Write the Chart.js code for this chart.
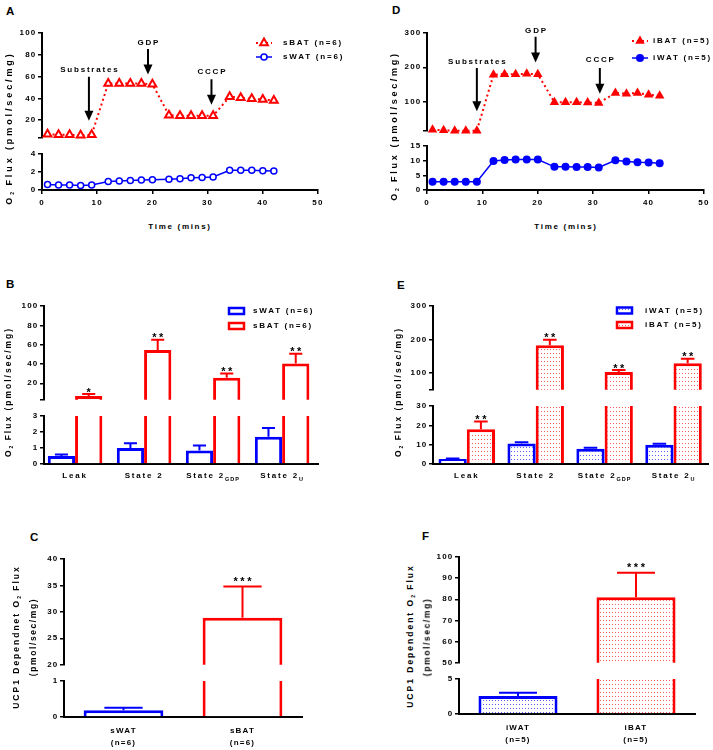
<!DOCTYPE html>
<html lang="en">
<head>
<meta charset="UTF-8">
<title>O2 flux: BAT vs WAT</title>
<script src="https://cdn.jsdelivr.net/npm/chart.js"></script>
<style>
  html, body { margin: 0; padding: 0; background: #fff; }
  #page { position: relative; width: 713px; height: 750px; overflow: hidden;
          font-family: 'Liberation Sans', Arial, sans-serif; font-weight: bold; color: #000; }
  .box { position: absolute; }
  .letter { position: absolute; font-size: 11.5px; line-height: 1; }
  .t { position: absolute; font-size: 8px; line-height: 1; white-space: nowrap;
       letter-spacing: 1.7px; transform: translate(-50%, -50%); }
  .yt { font-size: 8.5px; transform: translate(-50%, -50%) rotate(-90deg); }
  .t sub { font-size: 5px; vertical-align: -1.5px; letter-spacing: 1px; }
</style>
</head>
<body>
<div id="page">
  <div class="letter" style="left:6px;top:6px">A</div>
  <div class="letter" style="left:392px;top:5px">D</div>
  <div class="letter" style="left:6px;top:279px">B</div>
  <div class="letter" style="left:397px;top:280px">E</div>
  <div class="letter" style="left:30px;top:532px">C</div>
  <div class="letter" style="left:422px;top:531px">F</div>

  <div class="t yt" style="left:9.5px;top:128px;font-size:9px;letter-spacing:2.9px">O<sub>2</sub> Flux (pmol/sec/mg)</div>
  <div class="t yt" style="left:395px;top:126px;font-size:9px;letter-spacing:2.7px">O<sub>2</sub> Flux (pmol/sec/mg)</div>
  <div class="t yt" style="left:9px;top:392px;letter-spacing:2px">O<sub>2</sub> Flux (pmol/sec/mg)</div>
  <div class="t yt" style="left:399px;top:392px;letter-spacing:2px">O<sub>2</sub> Flux (pmol/sec/mg)</div>
  <div class="t yt" style="left:16.5px;top:637px;letter-spacing:2px">UCP1 Dependnet O<sub>2</sub> Flux</div>
  <div class="t yt" style="left:33px;top:637px;letter-spacing:1.6px">(pmol/sec/mg)</div>
  <div class="t yt" style="left:410.5px;top:636px;letter-spacing:2px">UCP1 Dependent O<sub>2</sub> Flux</div>
  <div class="t yt" style="left:427px;top:637px;letter-spacing:1.6px">(pmol/sec/mg)</div>

  <div class="t" style="left:180px;top:227px">Time (mins)</div>
  <div class="t" style="left:566px;top:227px">Time (mins)</div>
</div>

<script>
// ---------- data ----------
// A / D: oxygen flux time course
const timeMins = [1, 3, 5, 7, 9, 12, 14, 16, 18, 20, 23, 25, 27, 29, 31, 34, 36, 38, 40, 42];
const sBATflux = [7, 6.5, 6.5, 6, 6.5, 53.5, 53.5, 53.5, 53.5, 53, 24.5, 24, 24, 24, 24, 41.5, 40.5, 39.5, 39, 38];
const sWATflux = [0.6, 0.55, 0.55, 0.5, 0.55, 0.95, 1.0, 1.05, 1.1, 1.15, 1.2, 1.25, 1.35, 1.4, 1.45, 2.2, 2.2, 2.2, 2.15, 2.1];
const iBATflux = [18, 16, 15, 15, 15, 178, 180, 180, 181, 180, 98, 98, 98, 97, 96, 125, 123, 125, 120, 117];
const iWATflux = [2.8, 2.8, 2.8, 2.8, 2.8, 9.9, 10.2, 10.4, 10.4, 10.4, 7.9, 7.9, 7.8, 7.8, 7.7, 10.1, 9.7, 9.5, 9.4, 9.1];
const timeTicks = [0, 10, 20, 30, 40, 50];
const additions = ['Substrates', 'GDP', 'CCCP'];
const additionTimeA = [8.5, 19.2, 30.7];
const additionTimeD = [9.0, 19.6, 31.2];

// B / E: respiratory states
const states = ['Leak', 'State 2', 'State 2', 'State 2'];
const stateSubs = ['', '', 'GDP', 'U'];
const sWATstate = [0.5, 1.0, 0.85, 1.7];
const sWATsem = [0.1, 0.3, 0.3, 0.55];
const sBATstate = [6.8, 54.5, 25.6, 40.5];
const sBATsem = [2, 10.5, 4.6, 10];
const sBATstars = ['*', '**', '**', '**'];
const iWATstate = [2.6, 10.6, 7.9, 9.9];
const iWATsem = [0.3, 0.7, 0.5, 0.6];
const iBATstate = [18, 183, 103, 129];
const iBATsem = [4, 16, 5.5, 13.5];
const iBATstars = ['**', '**', '**', '**'];

// C / F: UCP1 dependent flux
const groupsC = [['sWAT', '(n=6)'], ['sBAT', '(n=6)']];
const ucp1C = [0.185, 28.9];
const ucp1Csem = [0.07, 5.9];
const groupsF = [['iWAT', '(n=5)'], ['iBAT', '(n=5)']];
const ucp1F = [2.57, 81];
const ucp1Fsem = [0.45, 11.5];
const ucp1Stars = ['', '***'];

// broken y axes: upper / lower segment ticks
const ticksA = [[4, 20, 40, 60, 80, 100], [0, 2, 4]];
const ticksD = [[15, 100, 200, 300], [0, 5, 10, 15]];
const ticksB = [[3, 20, 40, 60, 80, 100], [0, 1, 2, 3]];
const ticksE = [[50, 100, 200, 300], [0, 10, 20, 30]];
const ticksC = [[20, 25, 30, 35, 40], [0, 1]];
const ticksF = [[50, 60, 70, 80, 90, 100], [0, 5]];

// ---------- setup ----------
const RED = '#ff0000', BLUE = '#0000ff';
const FONT = "'Liberation Sans', Arial, sans-serif";
const page = document.getElementById('page');

Chart.defaults.font.family = FONT;
Chart.defaults.font.size = 8;
Chart.defaults.font.weight = 'bold';
Chart.defaults.color = '#000';
Chart.defaults.animation = false;
Chart.defaults.events = [];
Chart.defaults.plugins.legend.display = false;
Chart.defaults.plugins.tooltip.enabled = false;

function dots(color) {
  const c = document.createElement('canvas');
  c.width = 3; c.height = 4;
  const g = c.getContext('2d');
  g.fillStyle = '#fff'; g.fillRect(0, 0, 3, 4);
  g.fillStyle = color; g.fillRect(1, 1, 1, 1);
  return g.createPattern(c, 'repeat');
}
const redDots = dots('#ff5a5a');
const blueDots = dots('#5a5aff');

const sBATstyle = { color: RED, marker: 'triangle', radius: 4.5, fill: '#fff', mb: 2, line: 2, dash: [2, 3] };
const sWATstyle = { color: BLUE, marker: 'circle', radius: 3, fill: '#fff', mb: 1.5, line: 1.5 };
const iBATstyle = { color: RED, marker: 'triangle', radius: 5.5, fill: RED, mb: 0, line: 2, dash: [2, 3] };
const iWATstyle = { color: BLUE, marker: 'circle', radius: 4, fill: BLUE, mb: 0, line: 1.5 };

function marker(ctx, st, x, y) {
  const r = st.radius, a = 2 * Math.PI / 3;
  ctx.beginPath();
  if (st.marker === 'triangle') {
    ctx.moveTo(x, y - r);
    ctx.lineTo(x + r * Math.sin(a), y - r * Math.cos(a));
    ctx.lineTo(x - r * Math.sin(a), y - r * Math.cos(a));
    ctx.closePath();
  } else {
    ctx.arc(x, y, r, 0, 2 * Math.PI);
  }
  ctx.fillStyle = st.fill;
  ctx.fill();
  if (st.mb) { ctx.lineWidth = st.mb; ctx.strokeStyle = st.color; ctx.stroke(); }
}

// ---------- plugins ----------
Chart.register({
  id: 'spacing',
  beforeDraw(chart) { chart.ctx.letterSpacing = '1.2px'; }
});

// upward SEM bars and significance stars
Chart.register({
  id: 'errorBars',
  afterDatasetsDraw(chart, args, opts) {
    const ctx = chart.ctx, ys = chart.scales.y;
    chart.data.datasets.forEach((ds, di) => {
      if (!ds.sem) return;
      chart.getDatasetMeta(di).data.forEach((bar, i) => {
        const d = ds.data[i];
        const v = typeof d === 'object' ? d.y : d;
        if (v < ys.min || v > ys.max) return;
        const top = ys.getPixelForValue(v + ds.sem[i]);
        const half = bar.width * 0.24;
        ctx.save();
        ctx.strokeStyle = Array.isArray(ds.borderColor) ? ds.borderColor[i] : ds.borderColor;
        ctx.lineWidth = 2;
        ctx.beginPath();
        ctx.moveTo(bar.x, bar.y); ctx.lineTo(bar.x, top);
        ctx.moveTo(bar.x - half, top); ctx.lineTo(bar.x + half, top);
        ctx.stroke();
        if (ds.stars && ds.stars[i]) {
          ctx.fillStyle = '#000';
          ctx.font = 'bold 11px ' + FONT;
          ctx.letterSpacing = '2.5px';
          ctx.textAlign = 'center';
          ctx.textBaseline = 'alphabetic';
          ctx.fillText(ds.stars[i], bar.x + 1.25, top + (opts.starDrop || 0));
        }
        ctx.restore();
      });
    });
  }
});

// addition arrows (Substrates / GDP / CCCP)
Chart.register({
  id: 'arrows',
  afterDatasetsDraw(chart, args, opts) {
    if (!opts.items) return;
    const ctx = chart.ctx, xs = chart.scales.x, ys = chart.scales.y;
    opts.items.forEach(a => {
      const x = xs.getPixelForValue(a.t);
      const y0 = ys.getPixelForValue(a.from), y1 = ys.getPixelForValue(a.to);
      ctx.save();
      ctx.strokeStyle = '#000'; ctx.fillStyle = '#000'; ctx.lineWidth = 2;
      ctx.beginPath(); ctx.moveTo(x, y0); ctx.lineTo(x, y1 - 8); ctx.stroke();
      ctx.beginPath();
      ctx.moveTo(x - 4.5, y1 - 10); ctx.lineTo(x + 4.5, y1 - 10); ctx.lineTo(x, y1);
      ctx.closePath(); ctx.fill();
      ctx.font = 'bold 8px ' + FONT;
      ctx.letterSpacing = '1.8px';
      ctx.textAlign = 'center'; ctx.textBaseline = 'middle';
      ctx.fillText(a.label, x + 0.9, ys.getPixelForValue(a.labelAt));
      ctx.restore();
    });
  }
});

// legend drawn at page coordinates
Chart.register({
  id: 'key',
  afterDraw(chart, args, opts) {
    if (!opts.items) return;
    const ctx = chart.ctx;
    opts.items.forEach(it => {
      const x = it.x - opts.ox, y = it.y - opts.oy;
      const st = it.style;
      ctx.save();
      if (it.kind === 'box') {
        ctx.fillStyle = st.fill; ctx.fillRect(x - 8, y - 3.5, 16, 7);
        ctx.strokeStyle = st.color; ctx.lineWidth = 2.5;
        ctx.strokeRect(x - 7.5, y - 3, 15, 6);
      } else {
        ctx.strokeStyle = st.color; ctx.lineWidth = st.line;
        ctx.setLineDash(st.dash || []);
        ctx.beginPath(); ctx.moveTo(x - 8, y); ctx.lineTo(x + 8, y); ctx.stroke();
        ctx.setLineDash([]);
        marker(ctx, st, x, y);
      }
      ctx.fillStyle = '#000';
      ctx.font = 'bold 8px ' + FONT;
      ctx.letterSpacing = '1.8px';
      ctx.textAlign = 'left'; ctx.textBaseline = 'middle';
      ctx.fillText(it.text, it.tx - opts.ox, y);
      ctx.restore();
    });
  }
});

// category labels with subscripts under grouped bars
Chart.register({
  id: 'groupLabels',
  afterDraw(chart, args, opts) {
    if (!opts.main) return;
    const ctx = chart.ctx, xs = chart.scales.x;
    const y = chart.chartArea.bottom + opts.offset;
    opts.main.forEach((txt, i) => {
      const sub = opts.sub[i];
      ctx.save();
      ctx.fillStyle = '#000'; ctx.textAlign = 'left'; ctx.textBaseline = 'middle';
      ctx.font = 'bold 8px ' + FONT; ctx.letterSpacing = '1.8px';
      const w1 = ctx.measureText(txt).width;
      ctx.font = 'bold 5.5px ' + FONT; ctx.letterSpacing = '1px';
      const w2 = sub ? ctx.measureText(sub).width : 0;
      const x0 = xs.getPixelForValue(i) - (w1 + w2) / 2;
      ctx.font = 'bold 8px ' + FONT; ctx.letterSpacing = '1.8px';
      ctx.fillText(txt, x0, y);
      if (sub) {
        ctx.font = 'bold 5.5px ' + FONT; ctx.letterSpacing = '1px';
        ctx.fillText(sub, x0 + w1, y + 3);
      }
      ctx.restore();
    });
  }
});

// ---------- helpers ----------
function makeChart(area, cfg, o) {
  o = o || {};
  const yw = 40, pt = o.pt || 10, pr = o.pr || 12, pb = 2, xh = o.xh || 0;
  const left = area[0] - yw, top = area[1] - pt;
  const w = area[2] - area[0] + yw + pr;
  const h = area[3] - area[1] + pt + xh + pb;
  const box = document.createElement('div');
  box.className = 'box';
  box.style.left = left + 'px'; box.style.top = top + 'px';
  box.style.width = w + 'px'; box.style.height = h + 'px';
  const cv = document.createElement('canvas');
  cv.width = w; cv.height = h;
  cv.style.width = w + 'px'; cv.style.height = h + 'px';
  box.appendChild(cv);
  page.insertBefore(box, page.firstChild);
  const opt = cfg.options;
  opt.responsive = false;
  opt.layout = { padding: { left: 0, top: pt, right: pr, bottom: pb } };
  opt.scales.y.afterFit = s => { s.width = yw; };
  opt.scales.x.afterFit = s => { s.height = xh; };
  opt.plugins = opt.plugins || {};
  if (opt.plugins.key) { opt.plugins.key.ox = left; opt.plugins.key.oy = top; }
  return new Chart(cv, cfg);
}

function yAxis(min, max, ticks, blankMin) {
  return {
    min, max,
    afterBuildTicks: s => { s.ticks = ticks.map(v => ({ value: v })); },
    ticks: { padding: 1.5, autoSkip: false, callback: v => (blankMin && v === min ? '' : v) },
    grid: { drawOnChartArea: false, drawTicks: true, tickLength: 4, color: '#000', lineWidth: 1.5 },
    border: { color: '#000', width: 2 }
  };
}

function xTime(show) {
  if (!show) return { type: 'linear', min: 0, max: 50, display: false };
  return {
    type: 'linear', min: 0, max: 50,
    afterBuildTicks: s => { s.ticks = timeTicks.map(v => ({ value: v })); },
    ticks: { padding: 4, autoSkip: false, maxRotation: 0 },
    grid: { drawOnChartArea: false, drawTicks: true, tickLength: 4, color: '#000', lineWidth: 1.5 },
    border: { color: '#000', width: 2 }
  };
}

function xStates(min, max, show) {
  return {
    type: 'linear', min, max, display: show, offset: false,
    afterBuildTicks: s => { s.ticks = states.map((_, i) => ({ value: i })); },
    ticks: { display: false },
    grid: { display: false, drawTicks: false, offset: false },
    border: { color: '#000', width: 2 }
  };
}

function xGroups(show) {
  return {
    type: 'category', display: show, offset: true,
    ticks: { padding: 8, font: { lineHeight: 1.5 } },
    grid: { display: false, drawTicks: false },
    border: { color: '#000', width: 2 }
  };
}

function lineSet(ys, st) {
  return {
    data: timeMins.map((x, i) => ({ x, y: ys[i] })),
    borderColor: st.color, borderWidth: st.line, borderDash: st.dash || [],
    pointStyle: st.marker, pointRadius: st.radius, pointBorderWidth: st.mb,
    pointBackgroundColor: st.fill, pointBorderColor: st.color,
    clip: false, tension: 0
  };
}

function barSet(vals, sem, stars, color, fill, pct) {
  return {
    data: vals.map((v, i) => ({ x: i, y: v })), sem, stars,
    borderColor: color, backgroundColor: fill, borderWidth: 3, borderSkipped: 'start',
    clip: 0, categoryPercentage: pct, barPercentage: 1
  };
}

// ---------- A ----------
const arrowsA = [
  { label: additions[0], t: additionTimeA[0], from: 59.8, to: 19.4, labelAt: 66.2 },
  { label: additions[1], t: additionTimeA[1], from: 85.3, to: 61.8, labelAt: 91.2 },
  { label: additions[2], t: additionTimeA[2], from: 57.5, to: 34, labelAt: 64.8 }
];
makeChart([42, 33, 318, 142], {
  type: 'line',
  data: { datasets: [lineSet(sBATflux, sBATstyle)] },
  options: {
    scales: { x: xTime(false), y: yAxis(4, 100, ticksA[0], true) },
    plugins: {
      arrows: { items: arrowsA },
      key: { items: [
        { style: sBATstyle, x: 264, y: 43, text: 'sBAT (n=6)', tx: 283 },
        { style: sWATstyle, x: 264, y: 57, text: 'sWAT (n=6)', tx: 283 }
      ] }
    }
  }
}, { pr: 37 });
makeChart([42, 154, 318, 190], {
  type: 'line',
  data: { datasets: [lineSet(sWATflux, sWATstyle)] },
  options: { scales: { x: xTime(true), y: yAxis(0, 4, ticksA[1], false) } }
}, { xh: 30, pt: 8 });

// ---------- D ----------
const arrowsD = [
  { label: additions[0], t: additionTimeD[0], from: 198, to: 72, labelAt: 217 },
  { label: additions[1], t: additionTimeD[1], from: 289, to: 214, labelAt: 305 },
  { label: additions[2], t: additionTimeD[2], from: 198, to: 123, labelAt: 221 }
];
makeChart([427, 33, 704, 135], {
  type: 'line',
  data: { datasets: [lineSet(iBATflux, iBATstyle)] },
  options: {
    scales: { x: xTime(false), y: yAxis(15, 300, ticksD[0], true) },
    plugins: {
      arrows: { items: arrowsD },
      key: { items: [
        { style: iBATstyle, x: 640, y: 41, text: 'iBAT (n=5)', tx: 653 },
        { style: iWATstyle, x: 640, y: 58, text: 'iWAT (n=5)', tx: 653 }
      ] }
    }
  }
}, { pr: 9 });
makeChart([427, 146, 704, 190], {
  type: 'line',
  data: { datasets: [lineSet(iWATflux, iWATstyle)] },
  options: { scales: { x: xTime(true), y: yAxis(0, 15, ticksD[1], false) } }
}, { xh: 30, pt: 8, pr: 9 });

// ---------- B ----------
const bSets = () => [
  barSet(sWATstate, sWATsem, null, BLUE, '#fff', 0.79),
  barSet(sBATstate, sBATsem, sBATstars, RED, '#fff', 0.79)
];
makeChart([44, 306, 318, 404], {
  type: 'bar',
  data: { datasets: bSets() },
  options: {
    scales: { x: xStates(-0.45, 3.52, false), y: yAxis(3, 100, ticksB[0], true) },
    plugins: {
      errorBars: { starDrop: 1.5 },
      key: { items: [
        { kind: 'box', style: { color: BLUE, fill: '#fff' }, x: 236.5, y: 311, text: 'sWAT (n=6)', tx: 253 },
        { kind: 'box', style: { color: RED, fill: '#fff' }, x: 236.5, y: 326, text: 'sBAT (n=6)', tx: 253 }
      ] }
    }
  }
}, { pr: 30 });
makeChart([44, 416, 318, 464], {
  type: 'bar',
  data: { datasets: bSets() },
  options: {
    scales: { x: xStates(-0.45, 3.52, true), y: yAxis(0, 3, ticksB[1], false) },
    plugins: { errorBars: { starDrop: 1.5 }, groupLabels: { main: states, sub: stateSubs, offset: 12 } }
  }
}, { xh: 25, pt: 8, pr: 30 });

// ---------- E ----------
const eSets = () => [
  barSet(iWATstate, iWATsem, null, BLUE, blueDots, 0.82),
  barSet(iBATstate, iBATsem, iBATstars, RED, redDots, 0.82)
];
makeChart([433, 306, 708, 394], {
  type: 'bar',
  data: { datasets: eSets() },
  options: {
    scales: { x: xStates(-0.49, 3.5, false), y: yAxis(50, 300, ticksE[0], true) },
    plugins: {
      errorBars: { starDrop: 1.5 },
      key: { items: [
        { kind: 'box', style: { color: BLUE, fill: blueDots }, x: 624.5, y: 310.5, text: 'iWAT (n=5)', tx: 645 },
        { kind: 'box', style: { color: RED, fill: redDots }, x: 624.5, y: 325, text: 'iBAT (n=5)', tx: 645 }
      ] }
    }
  }
}, { pr: 5 });
makeChart([433, 406, 708, 464], {
  type: 'bar',
  data: { datasets: eSets() },
  options: {
    scales: { x: xStates(-0.49, 3.5, true), y: yAxis(0, 30, ticksE[1], false) },
    plugins: { errorBars: { starDrop: 1.5 }, groupLabels: { main: states, sub: stateSubs, offset: 12 } }
  }
}, { xh: 25, pt: 8, pr: 5 });

// ---------- C ----------
const cSet = () => ({
  data: ucp1C, sem: ucp1Csem, stars: ucp1Stars,
  borderColor: [BLUE, RED], backgroundColor: ['#fff', '#fff'], borderWidth: 3, borderSkipped: 'start',
  clip: 0, categoryPercentage: 1, barPercentage: 0.67
});
makeChart([64, 559, 302, 669], {
  type: 'bar',
  data: { labels: groupsC, datasets: [cSet()] },
  options: {
    scales: { x: xGroups(false), y: yAxis(20, 40, ticksC[0], false) },
    plugins: { errorBars: { starDrop: -1.7 } }
  }
});
makeChart([64, 681, 302, 717], {
  type: 'bar',
  data: { labels: groupsC, datasets: [cSet()] },
  options: {
    scales: { x: xGroups(true), y: yAxis(0, 1, ticksC[1], false) },
    plugins: { errorBars: { starDrop: -1.7 } }
  }
}, { xh: 33, pt: 8 });

// ---------- F ----------
const fSet = () => ({
  data: ucp1F, sem: ucp1Fsem, stars: ucp1Stars,
  borderColor: [BLUE, RED], backgroundColor: [blueDots, redDots], borderWidth: 3, borderSkipped: 'start',
  clip: 0, categoryPercentage: 1, barPercentage: 0.67
});
makeChart([459, 557, 695, 667], {
  type: 'bar',
  data: { labels: groupsF, datasets: [fSet()] },
  options: {
    scales: { x: xGroups(false), y: yAxis(50, 100, ticksF[0], false) },
    plugins: { errorBars: { starDrop: -1.7 } }
  }
});
makeChart([459, 679, 695, 714], {
  type: 'bar',
  data: { labels: groupsF, datasets: [fSet()] },
  options: {
    scales: { x: xGroups(true), y: yAxis(0, 5, ticksF[1], false) },
    plugins: { errorBars: { starDrop: -1.7 } }
  }
}, { xh: 33, pt: 8 });
</script>
</body>
</html>
